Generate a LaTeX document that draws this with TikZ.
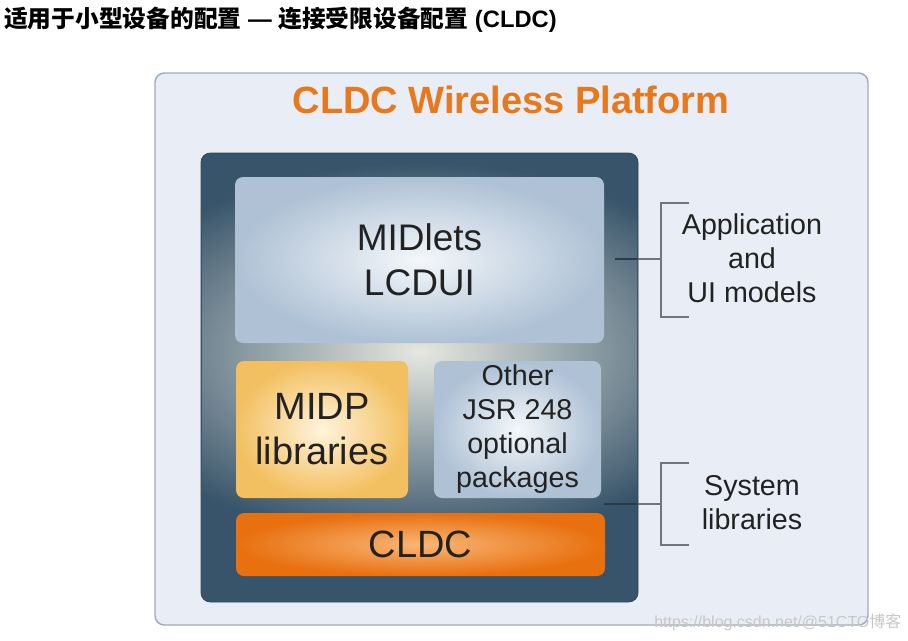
\documentclass[tikz,border=0pt]{standalone}
\usepackage{fontspec}
\setmainfont{Liberation Sans}
\newfontfamily\cjk{Noto Sans CJK SC}
\definecolor{panelfill}{HTML}{E9EEF6}
\definecolor{panelline}{HTML}{A3ABB4}
\definecolor{darkbox}{HTML}{38546A}
\definecolor{glow}{HTML}{E6E8E0}
\definecolor{blueedge}{HTML}{AEC1D5}
\definecolor{bluemid}{HTML}{F4F7FA}
\definecolor{yelledge}{HTML}{F3C061}
\definecolor{yellmid}{HTML}{FFF4DC}
\definecolor{orgedge}{HTML}{E8700F}
\definecolor{orgmid}{HTML}{F9B676}
\definecolor{titleorange}{HTML}{E8781C}
\definecolor{txt}{HTML}{222222}
\definecolor{brk}{HTML}{6E767F}
\tikzset{
  layerbox/.style={rounded corners=6pt, inner sep=0pt, align=center, text=txt},
  bluebox/.style={layerbox, shading=radial, inner color=bluemid, outer color=blueedge},
  yellbox/.style={layerbox, shading=radial, inner color=yellmid, outer color=yelledge},
  orgbox/.style={layerbox, shading=radial, inner color=orgmid, outer color=orgedge},
  bracket/.style={draw=brk, line width=1.6pt},
  sidetext/.style={align=center, text=txt, font=\fontsize{21.5pt}{25.5pt}\selectfont}
}
\begin{document}
\begin{tikzpicture}[x=0.75pt,y=-0.75pt]
\useasboundingbox (0,0) rectangle (908,640);
% heading
\node[anchor=west, inner sep=0pt, text=black, font=\bfseries\fontsize{17.8pt}{20pt}\selectfont] (heading) at (4,20)
  {{\cjk 适用于小型设备的配置} — {\cjk 连接受限设备配置} (CLDC)};
% outer panel
\node[minimum width=534.75pt, minimum height=414pt, inner sep=0pt, rounded corners=7pt, fill=panelfill, draw=panelline, line width=1.1pt] (panel) at (511.5,349) {};
\node[text=titleorange, font=\bfseries\fontsize{28.5pt}{30pt}\selectfont, inner sep=0pt] (ptitle) at (511,100) {CLDC Wireless Platform};
% dark platform box
\node[minimum width=327.75pt, minimum height=336.75pt, inner sep=0pt, rounded corners=7pt, fill=darkbox, draw=darkbox!85!black, line width=0.6pt] (stack) at (419.5,377.5) {};
\begin{scope}
  \clip[rounded corners=7pt] (202,154) rectangle (637,601);
  \shade[inner color=glow, outer color=darkbox] (420,352) ellipse [x radius=330, y radius=190];
\end{scope}
% layers
\node[bluebox, minimum width=276.75pt, minimum height=124.5pt, font=\fontsize{27.75pt}{33.75pt}\selectfont] (midlets) at (419.5,260) {MIDlets\\LCDUI};
\node[yellbox, minimum width=129pt, minimum height=102.75pt, font=\fontsize{28.5pt}{33.75pt}\selectfont] (midp) at (322,429.5) {MIDP\\libraries};
\node[bluebox, minimum width=125.25pt, minimum height=102.75pt, font=\fontsize{21.5pt}{25.5pt}\selectfont] (jsr) at (517.5,429.5) {Other\\JSR 248\\optional\\packages};
\node[orgbox, minimum width=276.75pt, minimum height=47.25pt, font=\fontsize{28.5pt}{30pt}\selectfont] (cldc) at (420.5,544.5) {CLDC};
% brackets
\coordinate (a0) at (615,259);
\coordinate (a1) at (661,259);
\coordinate (atop) at (689,203);
\coordinate (abot) at (689,317);
\draw[bracket, draw=darkbox!70!black] (a0) -- (stack.east |- a0);
\draw[bracket] (stack.east |- a0) -- (a1);
\draw[bracket] (atop) -| (a1) |- (abot);
\node[sidetext] (appl) at (752,258) {Application\\and\\UI models};
\coordinate (s0) at (604,504);
\coordinate (s1) at (661,504);
\coordinate (stop) at (689,463);
\coordinate (sbot) at (689,545);
\draw[bracket, draw=darkbox!70!black] (s0) -- (stack.east |- s0);
\draw[bracket] (stack.east |- s0) -- (s1);
\draw[bracket] (stop) -| (s1) |- (sbot);
\node[sidetext] (sysl) at (752,503) {System\\libraries};
% watermark
\node[anchor=west, inner sep=0pt, text=black!22, font=\fontsize{12pt}{14pt}\selectfont] (wm) at (654,622) {https://blog.csdn.net/@51CTO{\cjk 博客}};
\end{tikzpicture}
\end{document}
